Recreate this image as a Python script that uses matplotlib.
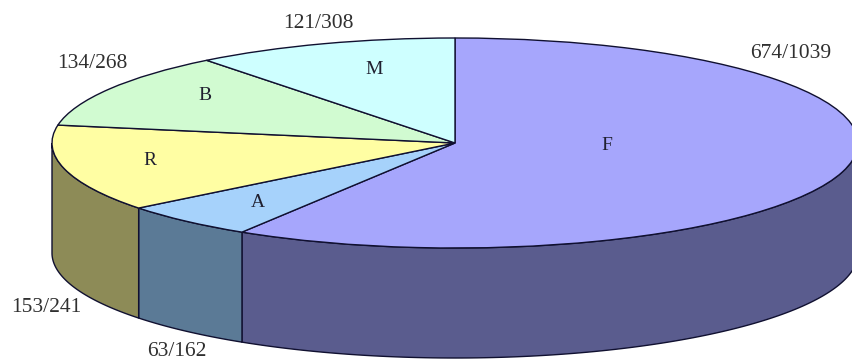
import numpy as np
import matplotlib
matplotlib.use('Agg')
import matplotlib.pyplot as plt

names = ['F', 'A', 'R', 'B', 'M']
hits = [674, 63, 153, 134, 121]
totals = [1039, 162, 241, 268, 308]
tops = ['#a6a6fc', '#a6d2fb', '#fffea3', '#d1fbd1', '#ceffff']
sides = ['#5a5c8e', '#5b7a96', '#8d8b57', '#697f69', '#697f7f']

plt.rcParams['font.family'] = ['Liberation Serif', 'DejaVu Serif']

W, H = 853, 362
cx, cy = 455, 143
rx, ry = 403, 105
depth = 110 / ry

fig = plt.figure(figsize=(W / 100, H / 100), dpi=100)
ax = fig.add_axes([0, 0, 1, 1])

wedges, _ = ax.pie(hits, colors=tops, startangle=90, counterclock=False,
                   wedgeprops={'edgecolor': '#101030', 'linewidth': 1.0, 'zorder': 3})

# pie is round in data units, the squashed limits make it an ellipse
ax.set_aspect('auto')
ax.set_xlim(-cx / rx, (W - cx) / rx)
ax.set_ylim(-(H - cy) / ry, cy / ry)

# side wall, only the front part of the rim shows
edges = 90 - np.cumsum([0] + hits) / sum(hits) * 360
for i in range(len(hits)):
    start, end = edges[i], edges[i + 1]
    t = np.radians(np.linspace(start, end, 200))
    t = t[np.sin(t) <= 0]
    if len(t) == 0:
        continue
    x = np.cos(t)
    y = np.sin(t)
    ax.fill(np.r_[x, x[::-1]], np.r_[y, y[::-1] - depth], facecolor=sides[i],
            edgecolor='#101030', linewidth=1.0, zorder=2)

# text positions in pixels of the picture
name_pos = [(607, 145), (258, 202), (150, 160), (205, 95), (374, 69)]
count_pos = [(791, 53), (177, 352), (46, 307), (92, 63), (318, 24)]
for i in range(len(names)):
    px, py = name_pos[i]
    ax.text((px - cx) / rx, (cy - py) / ry, names[i], fontsize=14, color='#202030',
            ha='center', va='center', zorder=5)
    px, py = count_pos[i]
    ax.text((px - cx) / rx, (cy - py) / ry, f'{hits[i]}/{totals[i]}', fontsize=15.5,
            color='#303030', ha='center', va='center', zorder=5)

fig.savefig('out.png', dpi=100)
